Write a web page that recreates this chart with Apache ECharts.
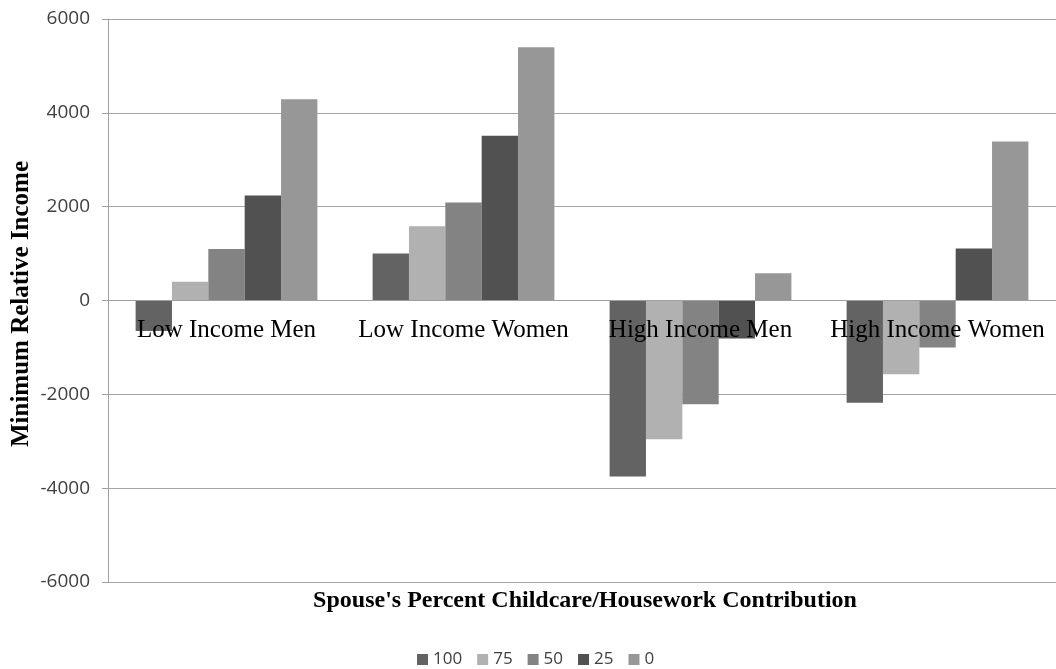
<!DOCTYPE html>
<html>
<head>
<meta charset="utf-8">
<script src="https://cdn.jsdelivr.net/npm/echarts@6/dist/echarts.min.js"></script>
<style>
  html, body { margin: 0; padding: 0; background: #ffffff; }
  #chart { width: 1056px; height: 669px; }
</style>
</head>
<body>
<div id="chart"></div>
<script>
// Groups along the horizontal axis
const categories = ['Low Income Men', 'Low Income Women', 'High Income Men', 'High Income Women'];

// Spouse's share of childcare/housework (%), one series each
const seriesNames = ['100', '75', '50', '25', '0'];
const values100 = [-650, 1000, -3750, -2180];
const values75  = [400, 1580, -2960, -1570];
const values50  = [1100, 2090, -2210, -1000];
const values25  = [2240, 3510, -810, 1110];
const values0   = [4290, 5400, 580, 3390];
const seriesValues = [values100, values75, values50, values25, values0];

const seriesColors = ['#636363', '#b1b1b1', '#838383', '#515151', '#979797'];

const yMin = -6000, yMax = 6000, yStep = 2000;

// Plot rectangle
const gridLeft = 108, gridTop = 19, gridWidth = 954, gridHeight = 563;
// Category axis sits on the zero line: shift it up from the bottom edge
const zeroOffset = -gridHeight * (0 - yMin) / (yMax - yMin);

const chart = echarts.init(document.getElementById('chart'), null, { renderer: 'canvas' });

const series = seriesNames.map((name, i) => ({
  name: name,
  type: 'bar',
  data: seriesValues[i],
  barGap: '0%',
  barCategoryGap: '23.3%',
  itemStyle: { color: seriesColors[i] },
  emphasis: { disabled: true }
}));

chart.setOption({
  animation: false,
  backgroundColor: '#ffffff',
  graphic: [
    {
      type: 'text',
      x: 22, y: 304,
      rotation: Math.PI / 2,
      style: {
        text: 'Minimum Relative Income',
        font: 'bold 25px "Liberation Serif"',
        fill: '#000',
        align: 'center', verticalAlign: 'middle'
      }
    },
    {
      type: 'text',
      x: 585, y: 601,
      style: {
        text: "Spouse's Percent Childcare/Housework Contribution",
        font: 'bold 24px "Liberation Serif"',
        fill: '#000',
        align: 'center', verticalAlign: 'middle'
      }
    }
  ],
  legend: {
    data: seriesNames,
    left: 412, top: 646,
    icon: 'rect',
    itemWidth: 11, itemHeight: 11, itemGap: 15,
    textStyle: { fontFamily: 'Open Sans', fontSize: 17, color: '#404040' },
    selectedMode: false
  },
  grid: { left: gridLeft, top: gridTop, width: gridWidth, height: gridHeight, containLabel: false },
  xAxis: {
    type: 'category',
    data: categories,
    position: 'bottom',
    offset: zeroOffset,
    z: 10,
    axisLine: { onZero: false, lineStyle: { color: '#a0a0a0', width: 1 } },
    axisTick: { show: false },
    axisLabel: {
      interval: 0,
      hideOverlap: false,
      margin: 17,
      fontFamily: 'Liberation Serif', fontSize: 25, color: '#000'
    },
    splitLine: { show: false }
  },
  yAxis: {
    type: 'value',
    min: yMin, max: yMax, interval: yStep,
    axisLine: { show: true, lineStyle: { color: '#a0a0a0', width: 1 } },
    axisTick: { show: true, length: 6, lineStyle: { color: '#a0a0a0' } },
    axisLabel: {
      margin: 18, fontFamily: 'Open Sans', fontSize: 19, color: '#404040',
      formatter: (v) => String(v)
    },
    splitLine: { show: true, lineStyle: { color: '#a6a6a6', width: 1 } }
  },
  series: series
});
</script>
</body>
</html>
